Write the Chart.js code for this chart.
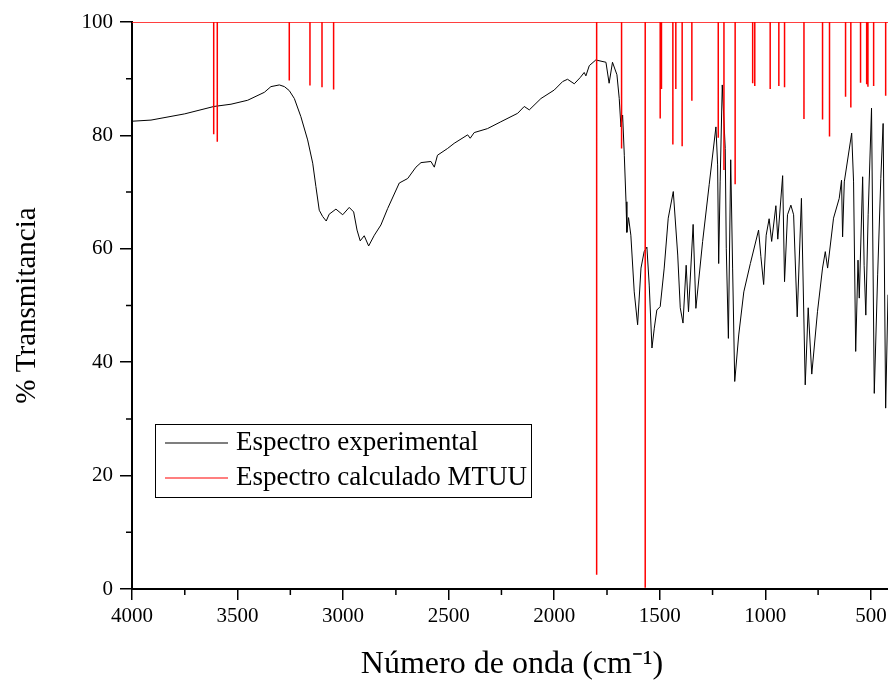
<!DOCTYPE html>
<html>
<head>
<meta charset="utf-8">
<script src="https://cdn.jsdelivr.net/npm/chart.js@4.4.1/dist/chart.umd.min.js"></script>
<style>
  html, body { margin: 0; padding: 0; background: #fff; overflow: hidden; }
  #wrap { width: 900px; height: 685px; }
</style>
</head>
<body>
<div id="wrap"><canvas id="ir"></canvas></div>
<script>
// Espectro experimental (número de onda, % transmitancia)
const waveNumbers = [
  4000, 3910, 3750, 3612, 3531, 3452, 3373, 3342, 3302, 3278, 3255, 3231, 3200, 3168, 3144, 3129,
  3113, 3097, 3080, 3066, 3034, 3002, 2971, 2950, 2934, 2919, 2900, 2879, 2852, 2821, 2789, 2734,
  2694, 2655, 2631, 2584, 2568, 2553, 2505, 2474, 2410, 2398, 2379, 2316, 2253, 2173, 2142, 2118,
  2063, 2000, 1960, 1937, 1905, 1877, 1858, 1850, 1834, 1803, 1755, 1740, 1724, 1703, 1692, 1684,
  1676, 1668, 1660, 1656, 1648, 1637, 1621, 1605, 1589, 1574, 1561, 1550, 1537, 1526, 1514, 1498,
  1479, 1460, 1436, 1415, 1403, 1390, 1375, 1364, 1342, 1329, 1297, 1266, 1234, 1226, 1221, 1214,
  1204, 1190, 1185, 1175, 1164, 1155, 1145, 1126, 1102, 1071, 1032, 1021, 1008, 996, 982, 970,
  950, 941, 918, 909, 895, 879, 866, 849, 829, 811, 797, 780, 753, 729, 716, 705,
  677, 650, 639, 634, 626, 591, 582, 572, 561, 555, 539, 532, 524, 513, 497, 484,
  468, 453, 442, 430, 419
];
const transmittance = [
  82.5, 82.7, 83.8, 85.1, 85.5, 86.2, 87.6, 88.6, 88.9, 88.6, 87.9, 86.5, 83.3, 79.2, 75.1, 71.0,
  66.8, 65.7, 64.9, 66.1, 67.0, 66.0, 67.3, 66.5, 63.3, 61.4, 62.3, 60.5, 62.4, 64.2, 67.1, 71.6,
  72.4, 74.4, 75.2, 75.4, 74.4, 76.5, 77.7, 78.6, 80.1, 79.5, 80.5, 81.2, 82.4, 83.9, 85.1, 84.5,
  86.5, 88.0, 89.5, 89.9, 89.1, 90.2, 91.1, 90.5, 92.3, 93.3, 92.9, 89.2, 92.9, 90.7, 86.5, 81.5,
  83.6, 76.5, 68.3, 62.9, 65.5, 62.4, 52.4, 46.6, 56.6, 59.5, 60.3, 53.6, 42.5, 46.0, 49.2, 49.8,
  56.6, 65.4, 70.1, 58.9, 49.6, 46.9, 57.1, 48.9, 64.3, 49.5, 61.3, 71.3, 81.5, 74.8, 57.4, 71.8,
  88.9, 77.7, 60.1, 44.2, 75.7, 56.6, 36.6, 44.8, 52.4, 57.4, 63.3, 58.6, 53.7, 62.4, 65.3, 61.3,
  67.6, 61.7, 72.9, 54.2, 66.0, 67.7, 66.0, 48.0, 68.9, 36.0, 49.6, 37.9, 48.9, 56.6, 59.5, 56.6,
  65.4, 68.9, 72.1, 62.1, 71.8, 80.4, 71.8, 41.9, 58.0, 51.3, 72.7, 57.1, 48.3, 66.0, 84.8, 34.5,
  55.4, 72.4, 82.1, 31.9, 51.9
];

// Espectro calculado MTUU (barras que bajan desde 100 %)
const stickWaveNumbers = [
  3613, 3596, 3255, 3157, 3100, 3045, 1799, 1681, 1569, 1498, 1492, 1438, 1424, 1394, 1348, 1223,
  1196, 1143, 1060, 1050, 977, 936, 909, 817, 729, 696, 620, 595, 549, 520, 514, 487, 430
];
const stickTransmittance = [
  80.2, 78.9, 89.7, 88.8, 88.5, 88.1, 2.5, 77.7, 0.2, 83.0, 88.2, 78.4, 88.2, 78.1, 86.1, 79.6,
  73.9, 71.4, 89.2, 88.7, 88.2, 88.7, 88.5, 82.9, 82.8, 79.8, 86.8, 84.9, 89.3, 89.0, 88.6, 88.7, 87.0
];
const stickBase = 100;

// ejes
const xMax = 4000;
const xMin = 400;
const xMajorTicks = [4000, 3500, 3000, 2500, 2000, 1500, 1000, 500];
const xMinorTicks = [3750, 3250, 2750, 2250, 1750, 1250, 750];
const yMajorTicks = [0, 20, 40, 60, 80, 100];
const yMinorTicks = [10, 30, 50, 70, 90];

const seriesLabels = ['Espectro experimental', 'Espectro calculado MTUU'];
const serif = '"Liberation Serif", "Times New Roman", serif';

// puntos de la línea experimental
let expPoints = waveNumbers.map((w, i) => ({ x: w, y: transmittance[i] }));

// barras: cada una baja y vuelve a la línea base
let stickPoints = [{ x: xMax, y: stickBase }];
stickWaveNumbers.forEach((w, i) => {
    stickPoints.push({ x: w, y: stickBase });
    stickPoints.push({ x: w, y: stickTransmittance[i] });
    stickPoints.push({ x: w, y: stickBase });
});
stickPoints.push({ x: xMin, y: stickBase });

// marcas menores y leyenda dentro del gráfico
const extras = {
    id: 'extras',
    afterDraw(chart) {
        const ctx = chart.ctx;
        const xs = chart.scales.x;
        const ys = chart.scales.y;
        const area = chart.chartArea;
        ctx.save();
        ctx.strokeStyle = '#000';
        ctx.lineWidth = 1.5;
        ctx.beginPath();
        xMinorTicks.forEach(v => {
            let px = xs.getPixelForValue(v);
            ctx.moveTo(px, area.bottom);
            ctx.lineTo(px, area.bottom + 6);
        });
        yMinorTicks.forEach(v => {
            let py = ys.getPixelForValue(v);
            ctx.moveTo(area.left, py);
            ctx.lineTo(area.left - 6, py);
        });
        ctx.stroke();

        // leyenda
        let bx = area.left + 23, by = 424, bw = 376, bh = 73;
        ctx.lineWidth = 1;
        ctx.strokeRect(bx + 0.5, by + 0.5, bw, bh);
        ctx.font = '27px ' + serif;
        ctx.textBaseline = 'middle';
        ctx.fillStyle = '#000';
        chart.data.datasets.forEach((ds, i) => {
            let ry = by + 19 + i * 35;
            ctx.strokeStyle = ds.borderColor;
            ctx.lineWidth = 1.2;
            ctx.beginPath();
            ctx.moveTo(bx + 10, ry);
            ctx.lineTo(bx + 73, ry);
            ctx.stroke();
            ctx.fillText(ds.label, bx + 81, ry);
        });
        ctx.restore();
    }
};

let canvas = document.querySelector('#ir').getContext('2d');
window.irChart = new Chart(canvas, {
    type: 'line',
    data: {
        datasets: [{
            label: seriesLabels[0],
            data: expPoints,
            borderColor: '#000000',
            borderWidth: 1,
            pointRadius: 0,
            tension: 0,
            order: 2
        }, {
            label: seriesLabels[1],
            data: stickPoints,
            borderColor: '#ff0000',
            borderWidth: 1.5,
            pointRadius: 0,
            tension: 0,
            order: 1
        }]
    },
    options: {
        responsive: true,
        maintainAspectRatio: false,
        animation: false,
        layout: { padding: { top: 22, right: 8, left: 0, bottom: 0 } },
        plugins: {
            legend: { display: false },
            tooltip: { enabled: false }
        },
        scales: {
            x: {
                type: 'linear',
                reverse: true,
                min: xMin,
                max: xMax,
                afterBuildTicks: s => { s.ticks = xMajorTicks.map(v => ({ value: v })); },
                afterFit: s => { s.height = 96; },
                grid: { drawOnChartArea: false, tickLength: 11, color: '#000', lineWidth: 1.5 },
                border: { display: true, color: '#000', width: 2 },
                ticks: {
                    color: '#000',
                    font: { family: serif, size: 21 },
                    padding: 4,
                    maxRotation: 0,
                    callback: v => String(v)
                },
                title: {
                    display: true,
                    text: 'Número de onda (cm⁻¹)',
                    color: '#000',
                    font: { family: serif, size: 32 },
                    padding: { top: 0, bottom: 1 }
                }
            },
            y: {
                min: 0,
                max: 100,
                afterBuildTicks: s => { s.ticks = yMajorTicks.map(v => ({ value: v })); },
                afterFit: s => { s.width = 132; },
                grid: { drawOnChartArea: false, tickLength: 12, color: '#000', lineWidth: 1.5 },
                border: { display: true, color: '#000', width: 2 },
                ticks: {
                    color: '#000',
                    font: { family: serif, size: 21 },
                    padding: 7,
                    callback: v => String(v)
                },
                title: {
                    display: true,
                    text: '% Transmitancia',
                    color: '#000',
                    font: { family: serif, size: 29 },
                    padding: { top: 10, bottom: 0 }
                }
            }
        }
    },
    plugins: [extras]
});
</script>
</body>
</html>
